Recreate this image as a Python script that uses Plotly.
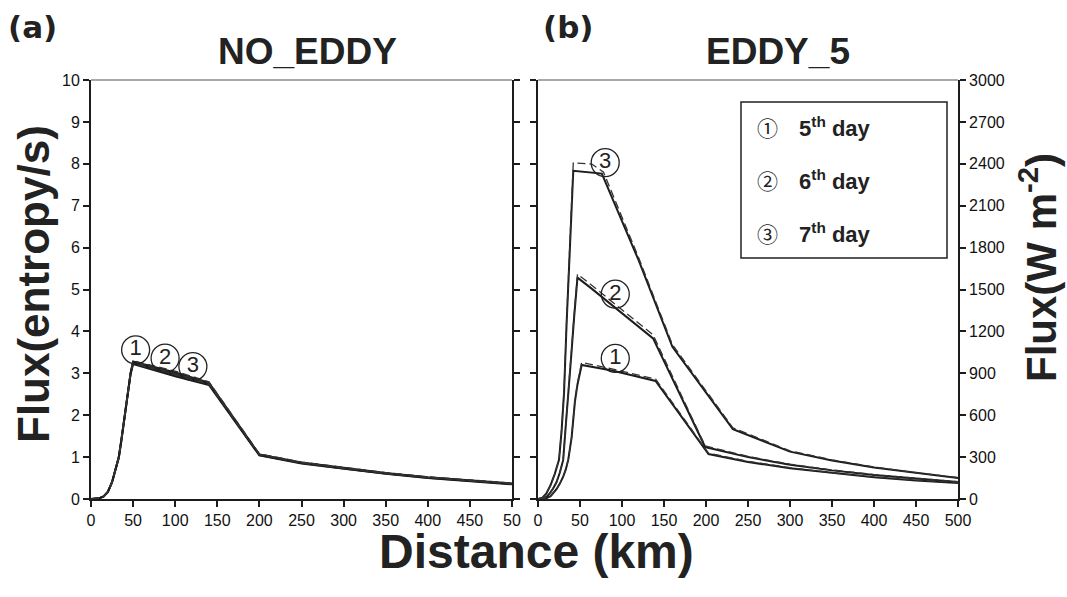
import plotly.graph_objects as go

W, H = 1067, 597

# ---------------- data ----------------
# (a) NO_EDDY, Flux (entropy/s) vs distance (km)
ne_x = [0, 5, 10, 15, 20, 25, 30, 33, 36, 40, 44, 47, 50, 100, 140, 200, 250, 300, 350, 400, 450, 500]
ne_day5 = [0, 0.005, 0.02, 0.06, 0.17, 0.40, 0.75, 1.0, 1.4, 2.0, 2.6, 3.0, 3.28, 3.02, 2.78, 1.06, 0.87, 0.74, 0.62, 0.52, 0.44, 0.37]
ne_day6 = [0, 0.005, 0.02, 0.06, 0.17, 0.40, 0.75, 1.0, 1.4, 2.0, 2.6, 3.0, 3.25, 2.97, 2.75, 1.05, 0.86, 0.73, 0.61, 0.51, 0.43, 0.36]
ne_day7 = [0, 0.005, 0.02, 0.06, 0.17, 0.40, 0.74, 0.98, 1.38, 1.98, 2.58, 2.98, 3.22, 2.93, 2.72, 1.04, 0.85, 0.72, 0.60, 0.50, 0.42, 0.35]
ne_day5_d = [0, 0.005, 0.02, 0.06, 0.17, 0.40, 0.76, 1.01, 1.41, 2.01, 2.62, 3.02, 3.30, 3.05, 2.80, 1.08, 0.88, 0.75, 0.63, 0.53, 0.45, 0.38]
ne_day6_d = [0, 0.005, 0.02, 0.06, 0.17, 0.40, 0.76, 1.01, 1.41, 2.01, 2.62, 3.02, 3.27, 3.00, 2.77, 1.07, 0.87, 0.74, 0.62, 0.52, 0.44, 0.37]
ne_day7_d = [0, 0.005, 0.02, 0.06, 0.17, 0.40, 0.75, 0.99, 1.39, 1.99, 2.60, 3.00, 3.24, 2.96, 2.74, 1.06, 0.86, 0.73, 0.61, 0.51, 0.43, 0.36]

# (b) EDDY_5, Flux (W m-2) vs distance (km)
e5_x1 = [0, 5, 10, 15, 18, 22, 26, 30, 33, 36, 40, 44, 47, 52, 88, 140, 203, 250, 300, 350, 400, 450, 500]
e5_day5 = [0, 2, 6, 20, 40, 70, 110, 160, 210, 280, 440, 700, 820, 960, 920, 845, 322, 265, 220, 185, 155, 132, 115]
e5_day5_d = [0, 2, 6, 20, 40, 70, 110, 160, 210, 280, 440, 705, 830, 978, 932, 858, 328, 270, 224, 188, 158, 135, 118]

e5_x2 = [0, 5, 10, 14, 18, 22, 26, 30, 33, 36, 40, 43, 47, 62, 137, 199, 250, 300, 350, 400, 450, 500]
e5_day6 = [0, 4, 15, 40, 75, 120, 190, 280, 520, 780, 1060, 1300, 1585, 1515, 1150, 372, 300, 245, 205, 172, 145, 122]
e5_day6_d = [0, 4, 15, 40, 75, 120, 190, 280, 525, 790, 1075, 1320, 1610, 1540, 1175, 380, 305, 249, 208, 175, 147, 124]

e5_x3 = [0, 5, 10, 15, 20, 25, 28, 31, 34, 38, 42, 76, 120, 160, 232, 300, 350, 400, 450, 500]
e5_day7 = [0, 8, 40, 100, 180, 280, 480, 760, 1250, 1800, 2350, 2330, 1706, 1090, 500, 339, 275, 225, 185, 150]
e5_x3_d = [0, 5, 10, 15, 20, 25, 28, 31, 34, 38, 42, 64, 78, 120, 160, 232, 300, 350, 400, 450, 500]
e5_day7_d = [0, 8, 40, 100, 180, 280, 485, 770, 1270, 1830, 2407, 2398, 2340, 1725, 1105, 510, 345, 280, 229, 188, 153]

# circled day markers
lab_a_x = [53, 88, 121]
lab_a_y = [3.56, 3.36, 3.16]
lab_b_x = [92, 92, 80]
lab_b_y = [1007, 1467, 2408]
lab_text = ["1", "2", "3"]

legend_sym = ["\u2460", "\u2461", "\u2462"]
legend_txt = ["5<sup>th</sup> day", "6<sup>th</sup> day", "7<sup>th</sup> day"]

x_ticks = [0, 50, 100, 150, 200, 250, 300, 350, 400, 450, 500]
x_ticktext_a = ["0", "50", "100", "150", "200", "250", "300", "350", "400", "450", "50"]
y_ticks_a = list(range(0, 11))
y_ticks_b = [0, 300, 600, 900, 1200, 1500, 1800, 2100, 2400, 2700, 3000]

# ---------------- figure ----------------
def px(v):
    return v / W

def py(v):
    return 1 - v / H

LINE = "#1c1c1c"
fig = go.Figure()

solid = dict(color=LINE, width=2)
dashed = dict(color="#333333", width=1.3, dash="8px,4px")

for ys in (ne_day5, ne_day6, ne_day7):
    fig.add_trace(go.Scatter(x=ne_x, y=ys, mode="lines", line=solid, xaxis="x", yaxis="y", showlegend=False))
for ys in (ne_day5_d, ne_day6_d, ne_day7_d):
    fig.add_trace(go.Scatter(x=ne_x, y=ys, mode="lines", line=dashed, xaxis="x", yaxis="y", showlegend=False))

for xs, ys in ((e5_x1, e5_day5), (e5_x2, e5_day6), (e5_x3, e5_day7)):
    fig.add_trace(go.Scatter(x=xs, y=ys, mode="lines", line=solid, xaxis="x2", yaxis="y2", showlegend=False))
for xs, ys in ((e5_x1, e5_day5_d), (e5_x2, e5_day6_d), (e5_x3_d, e5_day7_d)):
    fig.add_trace(go.Scatter(x=xs, y=ys, mode="lines", line=dashed, xaxis="x2", yaxis="y2", showlegend=False))

mk = dict(symbol="circle-open", size=28, color="#222", line=dict(width=1.3, color="#222"))
tf = dict(family="Liberation Sans", size=22, color="#222")
fig.add_trace(go.Scatter(x=lab_a_x, y=lab_a_y, mode="markers+text", text=lab_text, textposition="middle center",
                         marker=mk, textfont=tf, xaxis="x", yaxis="y", showlegend=False))
fig.add_trace(go.Scatter(x=lab_b_x, y=lab_b_y, mode="markers+text", text=lab_text, textposition="middle center",
                         marker=mk, textfont=tf, xaxis="x2", yaxis="y2", showlegend=False))

tickfont = dict(family="Liberation Sans", size=16, color="#111")
ax_common = dict(showgrid=False, zeroline=False, showline=True, linecolor=LINE, linewidth=1.8, automargin=False,
                 ticks="outside", ticklen=6, tickwidth=1.5, tickcolor=LINE, tickfont=tickfont)

ydom = [py(499), py(80)]
fig.update_layout(
    width=W, height=H,
    margin=dict(l=0, r=0, t=0, b=0, pad=0),
    paper_bgcolor="white", plot_bgcolor="white",
    xaxis=dict(domain=[px(91), px(512)], range=[0, 500], tickvals=x_ticks, ticktext=x_ticktext_a,
               anchor="y", **ax_common),
    yaxis=dict(domain=ydom, range=[0, 10], tickvals=y_ticks_a, anchor="x", mirror="ticks", **ax_common),
    xaxis2=dict(domain=[px(538), px(958)], range=[0, 500], tickvals=x_ticks, anchor="y2", **ax_common),
    yaxis2=dict(domain=ydom, range=[0, 3000], tickvals=y_ticks_b, side="right", anchor="x2",
                mirror="ticks", **ax_common),
)

# top frame lines
for xr, yr in (("x domain", "y domain"), ("x2 domain", "y2 domain")):
    fig.add_shape(type="line", xref=xr, yref=yr, x0=0, x1=1, y0=1, y1=1, line=dict(color="#555", width=1.2))

# legend box
fig.add_shape(type="rect", xref="paper", yref="paper", x0=px(741), x1=px(947), y0=py(258), y1=py(102),
              line=dict(color="#222", width=1.5), fillcolor="white")
rows = [127, 180, 233]
for sym, txt, r in zip(legend_sym, legend_txt, rows):
    fig.add_annotation(xref="paper", yref="paper", x=px(767), y=py(r), text=sym, showarrow=False,
                       font=dict(family="Noto Sans CJK JP", size=21, color="#222"), xanchor="center", yanchor="middle")
    fig.add_annotation(xref="paper", yref="paper", x=px(797), y=py(r), text="<b>" + txt + "</b>", showarrow=False,
                       font=dict(family="Liberation Sans", size=22, color="#222"), xanchor="left", yanchor="middle")

big = dict(family="Liberation Sans", color="#222")
cm = dict(xanchor="center", yanchor="middle", showarrow=False, xref="paper", yref="paper")
fig.add_annotation(x=px(32), y=py(27), text="<b>(a)</b>", font=dict(family="DejaVu Sans", size=31, color="#222"), **cm)
fig.add_annotation(x=px(568), y=py(27), text="<b>(b)</b>", font=dict(family="DejaVu Sans", size=31, color="#222"), **cm)
fig.add_annotation(x=px(307), y=py(51), text="<b>NO_EDDY</b>", font=dict(size=37, **big), **cm)
fig.add_annotation(x=px(778), y=py(51), text="<b>EDDY_5</b>", font=dict(size=37, **big), **cm)
fig.add_annotation(x=px(33), y=py(284), text="<b>Flux(entropy/s)</b>", textangle=-90, font=dict(size=44, **big), **cm)
fig.add_annotation(x=px(1038), y=py(268), text="<b>Flux(W m<sup>-2</sup>)</b>", textangle=-90,
                   font=dict(size=42, **big), **cm)
fig.add_annotation(x=px(536), y=py(551), text="<b>Distance (km)</b>", font=dict(size=48, **big), **cm)

fig.write_html("out.html")
